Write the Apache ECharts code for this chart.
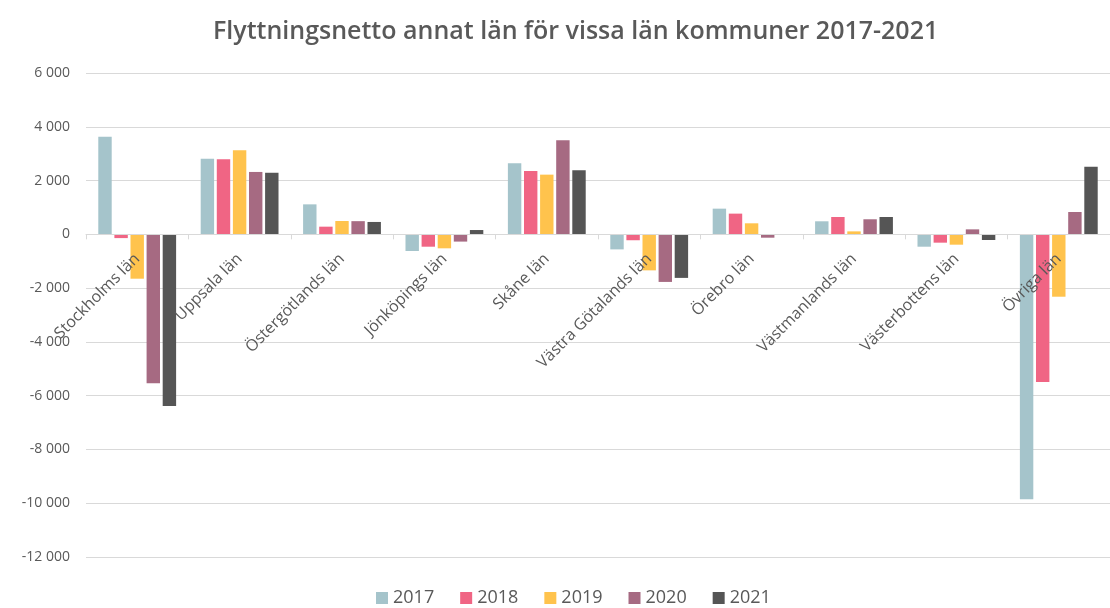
<!DOCTYPE html>
<html>
<head>
<meta charset="utf-8">
<script src="https://cdn.jsdelivr.net/npm/echarts@6/dist/echarts.min.js"></script>
<style>
html,body{margin:0;padding:0;background:#fff;}
#chart{width:1110px;height:608px;}
</style>
</head>
<body>
<div id="chart"></div>
<script>
const categories = ["Stockholms län","Uppsala län","Östergötlands län","Jönköpings län","Skåne län","Västra Götalands län","Örebro län","Västmanlands län","Västerbottens län","Övriga län"];
const years = ["2017","2018","2019","2020","2021"];
const v2017 = [3630, 2810, 1115, -620, 2640, -560, 955, 485, -460, -9850];
const v2018 = [-140, 2790, 285, -460, 2355, -220, 770, 645, -310, -5490];
const v2019 = [-1650, 3130, 495, -520, 2220, -1340, 410, 110, -385, -2320];
const v2020 = [-5540, 2320, 490, -270, 3495, -1770, -125, 560, 185, 830];
const v2021 = [-6380, 2290, 460, 160, 2380, -1620, 0, 645, -210, 2515];
const colors = ["#A5C4CB", "#F06584", "#FFC34D", "#A66A82", "#555555"];
const yMin = -12000, yMax = 6000, yStep = 2000;

const seriesData = [v2017, v2018, v2019, v2020, v2021];
const fmt = v => {
  const s = Math.abs(v).toString().replace(/\B(?=(\d{3})+(?!\d))/g, " ");
  return (v < 0 ? "-" : "") + s;
};

const gridTop = 73, gridHeight = 484;
const zeroOffset = -gridHeight * (0 - yMin) / (yMax - yMin);

const chart = echarts.init(document.getElementById('chart'));
chart.setOption({
  animation: false,
  textStyle: { fontFamily: "Open Sans" },
  title: {
    text: "Flyttningsnetto annat län för vissa län kommuner 2017-2021",
    left: 208, top: 14,
    textStyle: { fontFamily: "Open Sans", fontSize: 25, fontWeight: 600, color: '#595959' }
  },
  legend: {
    bottom: -4, left: 371,
    itemWidth: 12, itemHeight: 12, itemGap: 26,
    icon: 'rect',
    textStyle: { fontSize: 18, color: '#595959', fontFamily: "Open Sans" },
    data: years
  },
  grid: { left: 86, top: gridTop, width: 1035, height: gridHeight, containLabel: false },
  xAxis: {
    type: 'category',
    data: categories,
    position: 'bottom',
    offset: zeroOffset,
    z: 5,
    axisLine: { onZero: false, lineStyle: { color: '#D9D9D9', width: 1 } },
    axisTick: { show: true, length: 5, lineStyle: { color: '#D9D9D9' } },
    axisLabel: { rotate: 45, fontSize: 16, color: '#595959', margin: 22, interval: 0, fontFamily: "Open Sans" }
  },
  yAxis: {
    type: 'value',
    min: yMin, max: yMax, interval: yStep,
    axisLine: { show: false },
    axisTick: { show: false },
    splitLine: { lineStyle: { color: '#D9D9D9', width: 1 } },
    axisLabel: { fontSize: 14, color: '#595959', margin: 16, formatter: fmt }
  },
  series: years.map((y, i) => ({
    name: y,
    type: 'bar',
    data: seriesData[i],
    itemStyle: { color: colors[i] },
    barGap: '20%',
    barCategoryGap: '24%'
  }))
});
</script>
</body>
</html>
